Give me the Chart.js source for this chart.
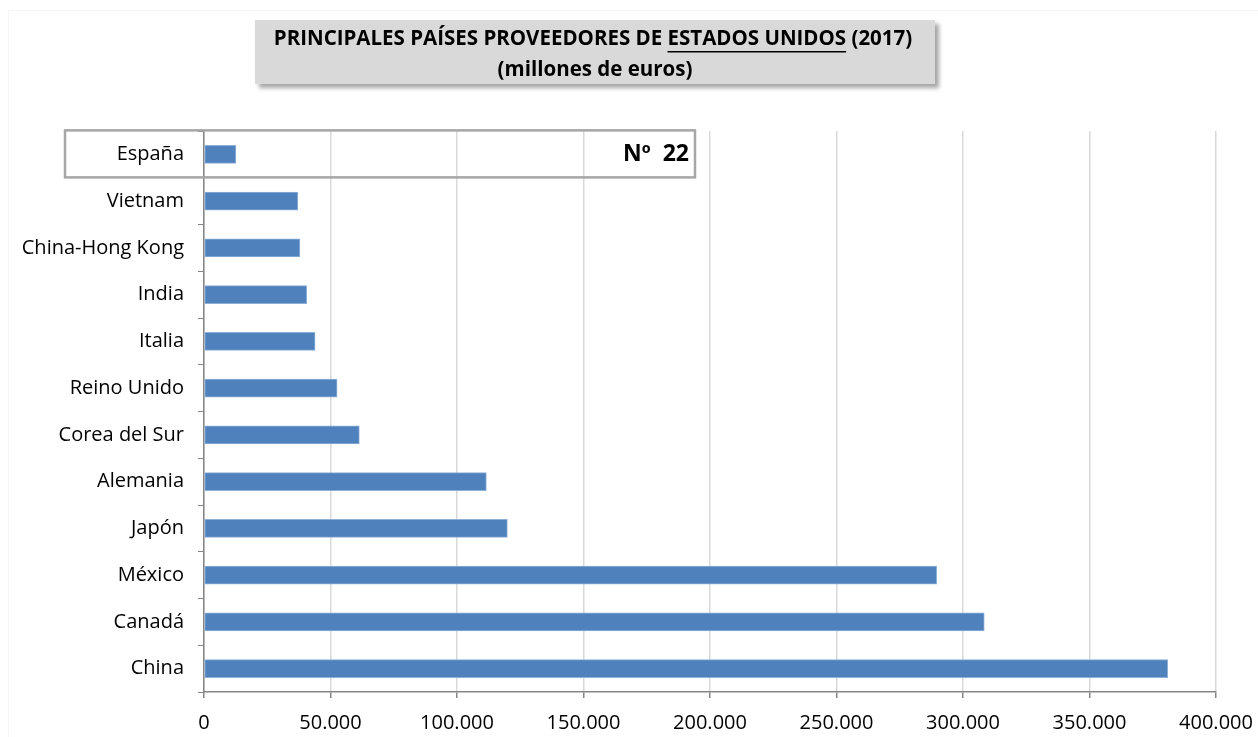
<!DOCTYPE html>
<html>
<head>
<meta charset="utf-8">
<script src="https://cdn.jsdelivr.net/npm/chart.js@4.4.0/dist/chart.umd.min.js"></script>
<style>
  html, body { margin: 0; padding: 0; background: #fff; }
  #wrap { width: 1258px; height: 737px; position: relative; }
</style>
</head>
<body>
<div id="wrap"><canvas id="proveedores" width="1258" height="737"></canvas></div>
<script>
// datos (millones de euros)
const paises = ["España", "Vietnam", "China-Hong Kong", "India", "Italia", "Reino Unido",
  "Corea del Sur", "Alemania", "Japón", "México", "Canadá", "China"];
const importaciones = [12600, 37100, 37900, 40600, 43900, 52600,
  61400, 111600, 119900, 289600, 308400, 380900];
const xTicks = [0, 50000, 100000, 150000, 200000, 250000, 300000, 350000, 400000];
const tituloL1 = ["PRINCIPALES PAÍSES PROVEEDORES DE ", "ESTADOS UNIDOS", " (2017)"];
const tituloL2 = "(millones de euros)";
const rankingEsp = "Nº  22";

const FONT = "'Open Sans', 'Liberation Sans', sans-serif";

const fmt = v => v.toString().replace(/\B(?=(\d{3})+(?!\d))/g, ".");

// cuadro del título + recuadro España
const extras = {
  id: "extras",
  beforeDraw(chart) {
    const ctx = chart.ctx;
    ctx.save();
    ctx.strokeStyle = "#f6f6f6";
    ctx.lineWidth = 1;
    ctx.strokeRect(8.5, 10.5, 1260, 760);
    ctx.restore();
  },
  afterDraw(chart) {
    const ctx = chart.ctx;
    const y = chart.scales.y;
    ctx.save();
    // titulo
    ctx.fillStyle = "rgba(0,0,0,0.35)";
    ctx.filter = "blur(2px)";
    ctx.fillRect(259, 24, 680, 64);
    ctx.filter = "none";
    ctx.fillStyle = "#d9d9d9";
    ctx.fillRect(255, 20, 680, 64);
    ctx.fillStyle = "#000";
    ctx.font = "bold 20.5px " + FONT;
    ctx.textBaseline = "middle";
    const widths = tituloL1.map(t => ctx.measureText(t).width);
    const total = widths.reduce((a, b) => a + b, 0);
    let x = 593 - total / 2;
    tituloL1.forEach((t, i) => {
      ctx.textAlign = "left";
      ctx.fillText(t, x, 39);
      if (i === 1) {
        ctx.fillRect(x, 51, widths[i], 1.5);
      }
      x += widths[i];
    });
    ctx.textAlign = "center";
    ctx.fillText(tituloL2, 595, 70);

    // recuadro España
    const yc = y.getPixelForValue(0);
    ctx.strokeStyle = "#a6a6a6";
    ctx.lineWidth = 2.5;
    ctx.strokeRect(65, yc - 24, 630, 47);
    ctx.font = "bold 23px " + FONT;
    ctx.textAlign = "right";
    ctx.fillStyle = "#000";
    ctx.fillText(rankingEsp, 689, yc);
    ctx.restore();
  }
};

new Chart(document.getElementById("proveedores"), {
  type: "bar",
  data: {
    labels: paises,
    datasets: [{
      data: importaciones,
      backgroundColor: "#4f81bd",
      borderColor: "#8eb0d8",
      borderWidth: 1,
      borderSkipped: false,
      barThickness: 18
    }]
  },
  options: {
    indexAxis: "y",
    responsive: false,
    animation: false,
    devicePixelRatio: 1,
    layout: { padding: { top: 131, right: 42, left: 0, bottom: 0 } },
    plugins: { legend: { display: false }, tooltip: { enabled: false } },
    scales: {
      x: {
        min: 0,
        max: 400000,
        afterBuildTicks: s => { s.ticks = xTicks.map(v => ({ value: v })); },
        afterFit: s => { s.height = 45; s.paddingLeft = 0; s.paddingRight = 0; },
        grid: { color: "#d9d9d9", lineWidth: 1.5, tickColor: "#868686", tickLength: 6 },
        border: { color: "#868686", width: 1.5 },
        ticks: { color: "#000", padding: 13, font: { family: FONT, size: 20 }, callback: v => fmt(v), maxRotation: 0 }
      },
      y: {
        afterFit: s => { s.width = 204; },
        grid: { drawOnChartArea: false, color: "#868686", tickLength: 6, offset: true },
        border: { color: "#868686", width: 1.5 },
        ticks: { color: "#000", padding: 14, font: { family: FONT, size: 20 } }
      }
    }
  },
  plugins: [extras]
});
</script>
</body>
</html>
